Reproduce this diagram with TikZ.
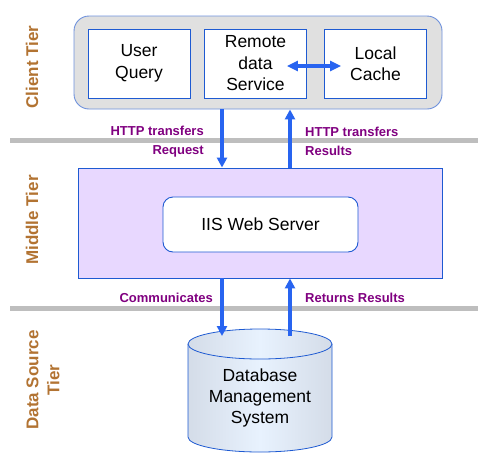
\documentclass[tikz,border=0pt]{standalone}
\usepackage{fontspec}
\setmainfont{Liberation Sans}
\usetikzlibrary{arrows.meta,positioning}
\definecolor{tierbrown}{RGB}{178,115,50}
\definecolor{httppurple}{RGB}{128,0,128}
\definecolor{flowblue}{RGB}{40,100,240}
\definecolor{boxblue}{RGB}{30,90,210}
\definecolor{clientgray}{RGB}{224,224,224}
\definecolor{clientedge}{RGB}{110,145,220}
\definecolor{midlilac}{RGB}{232,216,255}
\definecolor{sepgray}{RGB}{190,190,190}
\definecolor{dbside}{RGB}{212,220,232}
\definecolor{dbmid}{RGB}{232,242,254}

\begin{document}
\begin{tikzpicture}[x=1pt,y=-1pt,
  box/.style={draw=boxblue,fill=white,line width=0.9pt,minimum width=102pt,minimum height=69pt,align=center,font=\fontsize{17.5}{21.5}\selectfont},
  flow/.style={flowblue,line width=4pt,-{Triangle[length=10pt,width=10pt]}},
  biflow/.style={flowblue,line width=3.5pt,{Triangle[length=11pt,width=10pt]}-{Triangle[length=11pt,width=10pt]}},
  httplabel/.style={text=httppurple,font=\fontsize{13}{19}\selectfont\bfseries,inner sep=0pt},
  tier/.style={text=tierbrown,font=\fontsize{17}{21}\selectfont\bfseries,rotate=90,align=center}]
  \useasboundingbox (0,0) rectangle (492,461);

  % tier separators
  \draw[sepgray,line width=5pt] (10,140) -- (478,140);
  \draw[sepgray,line width=5pt] (10,308) -- (478,308);

  % tier names
  \foreach \y/\t/\n in {67/Client Tier/clienttier, 220/Middle Tier/middletier}
    \node[tier] (\n) at (32,\y) {\t};
  \node[tier] (datatier) at (43,380) {Data Source\\Tier};

  % client tier
  \node[draw=clientedge,fill=clientgray,line width=0.9pt,rounded corners=15pt,minimum width=368pt,minimum height=93pt] (client) at (258,62.5) {};
  \node[box] (user) at (139,63.5) {User\\Query};
  \node[box] (remote) at (255.5,63.5) {Remote\\data\\Service};
  \node[box] (local) at (375.5,63.5) {Local\\Cache};
  \draw[biflow] ([shift={(-20,2.5)}]remote.east) -- ([shift={(17,2.5)}]local.west);

  % middle tier
  \node[draw=boxblue,fill=midlilac,line width=0.9pt,minimum width=364pt,minimum height=110pt] (middle) at (260,223) {};
  \node[draw=boxblue,fill=white,line width=0.9pt,rounded corners=10pt,minimum width=195pt,minimum height=55pt,font=\fontsize{17.5}{21}\selectfont] (web) at (260.5,224.5) {IIS Web Server};

  % data source tier
  \shade[left color=dbside,right color=dbside,middle color=dbmid,draw=boxblue,line width=0.8pt]
    (188,344) -- (188,437) arc[start angle=180,end angle=0,x radius=72,y radius=15] -- (332,344);
  \shade[left color=dbside,right color=dbside,middle color=dbmid,draw=boxblue,line width=0.8pt]
    (260,344) ellipse[x radius=72,y radius=15];
  \node[align=center,font=\fontsize{17.5}{21}\selectfont] (dbms) at (260,398) {Database\\Management\\System};
  \coordinate (dbtop) at (260,336);

  % transfers
  \coordinate (reqx) at (222,0);
  \coordinate (resx) at (290,0);
  \draw[flow] (client.south -| reqx) -- (middle.north -| reqx);
  \draw[flow] (middle.north -| resx) -- (client.south -| resx);
  \draw[flow] (middle.south -| reqx) -- (dbtop -| reqx);
  \draw[flow] (dbtop -| resx) -- (middle.south -| resx);

  \node[httplabel,anchor=east,align=right] (reqlabel) at (204,141.5) {HTTP transfers\\Request};
  \node[httplabel,anchor=west,align=left] (reslabel) at (305,141.5) {HTTP transfers\\Results};
  \node[httplabel,anchor=east] (commlabel) at (213,298) {Communicates};
  \node[httplabel,anchor=west] (retlabel) at (305,298) {Returns Results};
\end{tikzpicture}
\end{document}
